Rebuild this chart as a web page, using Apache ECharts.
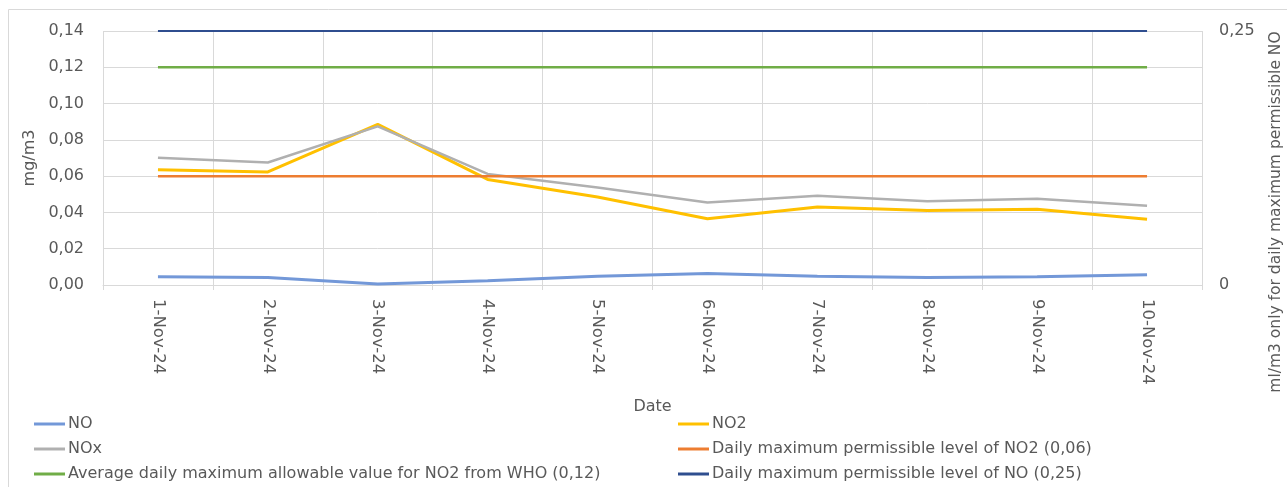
<!DOCTYPE html>
<html>
<head>
<meta charset="utf-8">
<script src="https://cdn.jsdelivr.net/npm/echarts@6/dist/echarts.min.js"></script>
<style>
html,body{margin:0;padding:0;background:#fff;}
#chart{width:1287px;height:487px;}
</style>
</head>
<body>
<div id="chart"></div>
<script>
const categories = ['1-Nov-24','2-Nov-24','3-Nov-24','4-Nov-24','5-Nov-24','6-Nov-24','7-Nov-24','8-Nov-24','9-Nov-24','10-Nov-24'];
const noValues   = [0.0045, 0.0042, 0.0006, 0.0024, 0.0048, 0.0064, 0.0048, 0.0041, 0.0045, 0.0057];
const no2Values  = [0.0635, 0.0623, 0.0885, 0.0582, 0.0485, 0.0365, 0.0430, 0.0410, 0.0418, 0.0362];
const noxValues  = [0.0702, 0.0675, 0.0874, 0.0612, 0.0538, 0.0455, 0.0492, 0.0462, 0.0476, 0.0437];
const no2Limit   = [0.06, 0.06, 0.06, 0.06, 0.06, 0.06, 0.06, 0.06, 0.06, 0.06];
const whoLimit   = [0.12, 0.12, 0.12, 0.12, 0.12, 0.12, 0.12, 0.12, 0.12, 0.12];
const noLimit    = [0.25, 0.25, 0.25, 0.25, 0.25, 0.25, 0.25, 0.25, 0.25, 0.25];
const seriesNames = [
  'NO',
  'NO2',
  'NOx',
  'Daily maximum permissible level of NO2 (0,06)',
  'Average daily maximum allowable value for NO2 from WHO (0,12)',
  'Daily maximum permissible level of NO (0,25)'
];

const DJ = '"DejaVu Sans", sans-serif';
const TXT = '#595959';
const GRID = '#d9d9d9';
const comma = v => (v === 0 ? '0' : String(v).replace('.', ','));

const chart = echarts.init(document.getElementById('chart'));
const legendCommon = {
  orient: 'vertical',
  icon: 'rect',
  itemWidth: 31,
  itemHeight: 3,
  itemGap: 9,
  padding: 0,
  height: 70,
  textStyle: { color: TXT, fontSize: 16, fontFamily: DJ, padding: [0,0,0,-2] }
};
const lineSeries = (name, data, color, width, yIdx) => ({
  name, type: 'line', data, yAxisIndex: yIdx || 0,
  symbol: 'none', showSymbol: false,
  lineStyle: { color, width },
  itemStyle: { color },
  emphasis: { disabled: true },
  animation: false
});

chart.setOption({
  animation: false,
  textStyle: { fontFamily: DJ },
  grid: { left: 103, right: 85, top: 31, bottom: 202, containLabel: false },
  graphic: [
    { type: 'rect', shape: { x: 8.5, y: 9.5, width: 1300, height: 500 },
      style: { fill: 'none', stroke: GRID, lineWidth: 1 }, silent: true },
    { type: 'text', x: 1276, y: 212, rotation: Math.PI / 2,
      style: { text: 'ml/m3 only for daily maximum permissible NO', fill: TXT,
               font: '15.5px ' + DJ, align: 'center', verticalAlign: 'middle' } }
  ],
  legend: [
    Object.assign({ left: 34, top: 416, data: [seriesNames[0], seriesNames[2], seriesNames[4]] }, legendCommon),
    Object.assign({ left: 678, top: 416, data: [seriesNames[1], seriesNames[3], seriesNames[5]] }, legendCommon)
  ],
  xAxis: {
    type: 'category',
    data: categories,
    boundaryGap: true,
    name: 'Date', nameLocation: 'middle', nameGap: 114,
    nameTextStyle: { color: TXT, fontSize: 16, fontFamily: DJ },
    axisLine: { lineStyle: { color: GRID, width: 1 } },
    axisTick: { show: true, length: 5, lineStyle: { color: GRID } },
    splitLine: { show: true, lineStyle: { color: GRID, width: 1 } },
    axisLabel: { rotate: -90, color: TXT, fontSize: 16.5, fontFamily: DJ, margin: 14, interval: 0 }
  },
  yAxis: [
    {
      type: 'value', min: 0, max: 0.14, interval: 0.02,
      name: 'mg/m3', nameLocation: 'middle', nameGap: 60, nameRotate: 90,
      nameTextStyle: { color: TXT, fontSize: 16, fontFamily: DJ },
      axisLine: { show: false }, axisTick: { show: false },
      splitLine: { lineStyle: { color: GRID, width: 1 } },
      axisLabel: { color: TXT, fontSize: 16, fontFamily: DJ, margin: 19,
                   formatter: v => v.toFixed(2).replace('.', ',') }
    },
    {
      type: 'value', min: 0, max: 0.25, interval: 0.25, position: 'right',
      axisLine: { show: false }, axisTick: { show: false }, splitLine: { show: false },
      axisLabel: { color: TXT, fontSize: 16, fontFamily: DJ, margin: 17, formatter: comma }
    }
  ],
  series: [
    lineSeries(seriesNames[0], noValues, '#7398d8', 3),
    lineSeries(seriesNames[1], no2Values, '#ffc000', 3),
    lineSeries(seriesNames[2], noxValues, '#b0b0b0', 2.5),
    lineSeries(seriesNames[3], no2Limit, '#ed7d31', 2.5),
    lineSeries(seriesNames[4], whoLimit, '#70ad47', 2.5),
    lineSeries(seriesNames[5], noLimit, '#2f4e8f', 2, 1)
  ]
});
</script>
</body>
</html>
